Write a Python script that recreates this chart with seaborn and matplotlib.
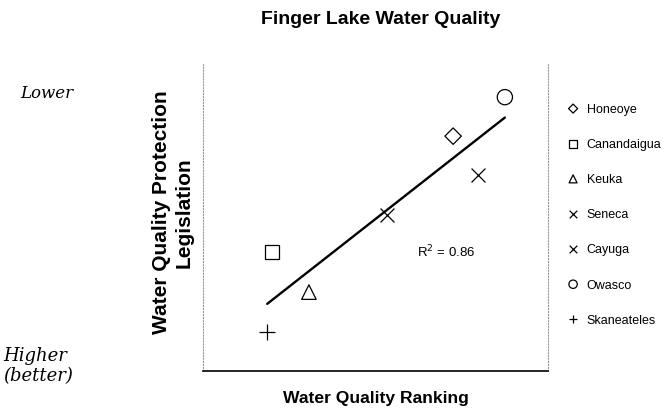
import numpy as np
import pandas as pd
import matplotlib
matplotlib.use("Agg")
import matplotlib.pyplot as plt
import seaborn as sns

# values (arbitrary 0-10 scale, no ticks shown)
lakes = ['Honeoye', 'Canandaigua', 'Keuka', 'Seneca', 'Cayuga', 'Owasco', 'Skaneateles']
ranking = [7.25, 2.0, 3.07, 7.97, 5.33, 8.75, 1.86]
legislation = [7.65, 3.88, 2.57, 6.38, 5.08, 8.92, 1.27]
marker_list = ['D', 's', '^', 'x', 'x', 'o', '+']
marker_size = [70, 110, 110, 100, 100, 120, 120]
r_squared = 0.86

df = pd.DataFrame({'lake': lakes, 'ranking': ranking, 'legislation': legislation})

sns.set_style("white")
plt.rcParams['font.family'] = ['Liberation Sans', 'DejaVu Sans']
plt.rcParams['text.color'] = 'black'
plt.rcParams['axes.labelcolor'] = 'black'

fig = plt.figure(figsize=(6.68, 4.14), dpi=100)
ax = fig.add_axes([203/668, 1 - 372/414, 345/668, 307/414])

for lake, m, s in zip(lakes, marker_list, marker_size):
    sub = df[df['lake'] == lake]
    if m in ('x', '+'):
        sns.scatterplot(data=sub, x='ranking', y='legislation', marker=m, s=s,
                        color='black', linewidth=0.9, label=lake, ax=ax)
    else:
        sns.scatterplot(data=sub, x='ranking', y='legislation', marker=m, s=s,
                        facecolors='none', edgecolor='black', linewidth=0.9,
                        label=lake, ax=ax)

# trend line over the data range
sns.regplot(data=df, x='ranking', y='legislation', scatter=False, ci=None,
            truncate=True, color='black', line_kws=dict(lw=1.7), ax=ax)

ax.text(6.2, 3.75, 'R$^2$ = %.2f' % r_squared, fontsize=9.5)

ax.set_xlim(0, 10)
ax.set_ylim(0, 10)
ax.set_xticks([])
ax.set_yticks([])
ax.set_xlabel('Water Quality Ranking', fontsize=12.6, fontweight='bold', labelpad=14)
ax.set_ylabel('Water Quality Protection\nLegislation', fontsize=15, fontweight='bold',
              linespacing=1.3)
ax.yaxis.set_label_coords(-0.026, 0.52)

ax.spines['top'].set_visible(False)
for side in ('left', 'right'):
    ax.spines[side].set_linestyle(':')
    ax.spines[side].set_color('#999999')
    ax.spines[side].set_linewidth(0.8)
ax.spines['bottom'].set_color('black')
ax.spines['bottom'].set_linewidth(1.2)

ax.legend(loc='upper left', bbox_to_anchor=(1.022, 0.91), frameon=False,
          fontsize=9, markerscale=0.55, labelspacing=1.85, handletextpad=0.6,
          handlelength=1.0)

fig.text(381/668, 1 - 19/414, 'Finger Lake Water Quality', ha='center', va='center',
         fontsize=14, fontweight='bold')

# handwritten notes on the scan
fig.text(20/668, 1 - 93/414, 'Lower', fontsize=12, style='italic', family='DejaVu Serif',
         va='center')
fig.text(3/668, 1 - 366/414, 'Higher\n(better)', fontsize=13, style='italic',
         family='DejaVu Serif', va='center', linespacing=1.2)

fig.savefig('out.png', dpi=100)
